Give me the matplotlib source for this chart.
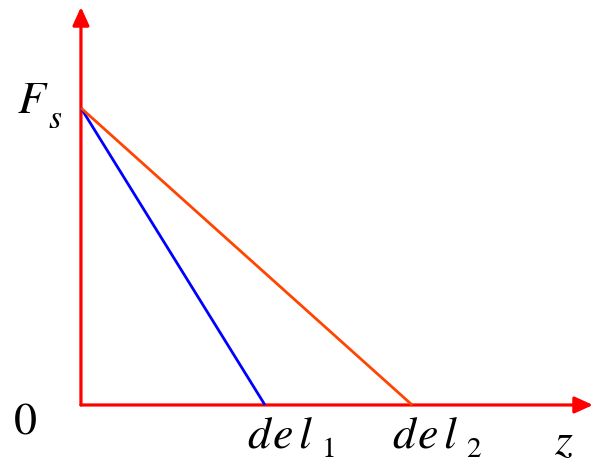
import matplotlib.pyplot as plt
from matplotlib.transforms import Affine2D

plt.rcParams['mathtext.fontset'] = 'stix'

# force level and the two displacements where it drops to zero
Fs = 1.0
dels = [1.0, 1.8]
line_colors = ['#0000ff', 'orangered']
del_subs = ['1', '2']
del_label_x = [247, 392]   # pixel x of each "del" label

fig = plt.figure(figsize=(5.93, 4.62), dpi=100)
ax = fig.add_axes([0, 0, 1, 1])
ax.set_xlim(-0.44, 2.783)
ax.set_ylim(-0.192, 1.3636)
ax.axis('off')

# axes as red arrows
arr = dict(arrowstyle='-|>,head_length=0.55,head_width=0.25', color='red',
           lw=2.3, mutation_scale=20, shrinkA=0, shrinkB=0)
ax.annotate('', xy=(0, 1.34), xytext=(0, 0), arrowprops=arr)
ax.annotate('', xy=(2.783, 0), xytext=(0, 0), arrowprops=arr)

for d, c in zip(dels, line_colors):
    ax.plot([0, d], [Fs, 0], color=c, lw=2, solid_capstyle='butt', zorder=3)

# labels placed in pixel coords (origin top-left), math italic like Times
px = Affine2D().scale(1, -1).translate(0, 462)

def lab(x, y, s, size):
    fig.text(x, y, '$' + s + '$', transform=px, fontsize=size,
             ha='left', va='baseline')

lab(17, 113, 'F', 33)
lab(48, 128, 's', 24)
lab(13, 433, '0', 33)
for x0, sub in zip(del_label_x, del_subs):
    lab(x0, 447, 'd', 33)
    lab(x0 + 25, 447, 'e', 33)
    lab(x0 + 51, 447, 'l', 33)
    lab(x0 + 74, 457, sub, 21)
lab(554, 454, 'z', 33)

fig.savefig('out.png', dpi=100)
